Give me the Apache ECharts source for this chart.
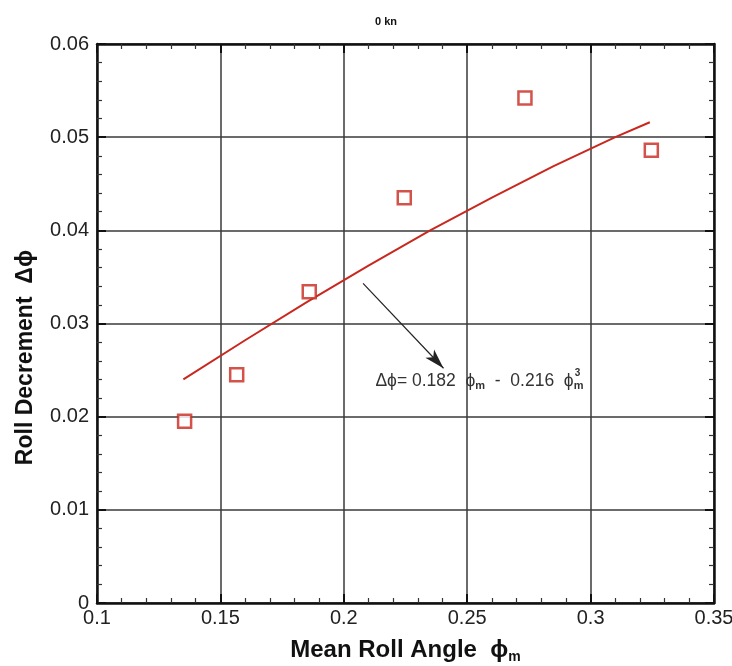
<!DOCTYPE html>
<html><head><meta charset="utf-8">
<script src="https://cdn.jsdelivr.net/npm/echarts@6/dist/echarts.min.js"></script>
<style>html,body{margin:0;padding:0;background:#fff}#c{width:732px;height:666px}</style>
</head><body><div id="c"></div>
<script>
const titleText = '0 kn';
const xName = 'Mean Roll Angle  ϕ{s|m}';
const yName = 'Roll Decrement  Δϕ';
const measX = [0.1355, 0.1566, 0.186, 0.2245, 0.2734, 0.3246];
const measY = [0.0195, 0.0245, 0.0334, 0.0435, 0.0542, 0.0486];
const fitX = [0.135, 0.16, 0.185, 0.21, 0.235, 0.26, 0.285, 0.31, 0.324];
const fitY = [0.0240, 0.0282, 0.0323, 0.0362, 0.0400, 0.0435, 0.0469, 0.0500, 0.0516];
const arrowFrom = [0.2078, 0.0343];
const arrowTo = [0.2404, 0.0252];
const notePos = [0.2128, 0.0238];
const notePre = 'Δϕ= 0.182  ϕ';
const noteMid = '  -  0.216  ϕ';

const chart = echarts.init(document.getElementById('c'));
const F = 'Liberation Sans, Arial, sans-serif';
const NS = 17.5, SS = 11;
const gridL = {show: true, lineStyle: {color: '#3a3a3a', width: 1.5}};
const axLine = {show: true, onZero: false, lineStyle: {color: '#111', width: 2.5}};
const tick = {show: true, inside: true, length: 9, lineStyle: {color: '#111', width: 2}};
const minor = {show: true, splitNumber: 5, length: 5, lineStyle: {color: '#333', width: 1.2}};
chart.setOption({
  animation: false,
  title: {text: titleText, left: 381, top: 11, textAlign: 'center',
    textStyle: {fontFamily: F, fontSize: 11, fontWeight: 'bold', color: '#111'}},
  grid: {left: 97, right: 18, top: 44, bottom: 63, outerBoundsMode: 'none', containLabel: false},
  xAxis: [{
    type: 'value', min: 0.1, max: 0.35, interval: 0.05,
    axisLine: axLine, axisTick: tick, minorTick: minor, splitLine: gridL,
    axisLabel: {fontFamily: F, fontSize: 20, color: '#222', margin: 5},
    name: xName, nameLocation: 'middle', nameGap: 33,
    nameTextStyle: {fontFamily: F, fontSize: 24, fontWeight: 'bold', color: '#111',
      rich: {s: {fontFamily: F, fontSize: 14, fontWeight: 'bold', color: '#111', verticalAlign: 'bottom', padding: [14, 0, 0, 0]}}}
  }, {
    type: 'value', position: 'top', min: 0.1, max: 0.35, interval: 0.05,
    axisLine: axLine, axisTick: tick, minorTick: minor, splitLine: {show: false},
    axisLabel: {show: false}
  }],
  yAxis: [{
    type: 'value', min: 0, max: 0.06, interval: 0.01,
    axisLine: axLine, axisTick: tick, minorTick: minor, splitLine: gridL,
    axisLabel: {fontFamily: F, fontSize: 20, color: '#222', margin: 8},
    name: yName, nameLocation: 'middle', nameGap: 60,
    nameTextStyle: {fontFamily: F, fontSize: 23, fontWeight: 'bold', color: '#111', padding: [0, 68, 0, 0]}
  }, {
    type: 'value', position: 'right', min: 0, max: 0.06, interval: 0.01,
    axisLine: axLine, axisTick: tick, minorTick: minor, splitLine: {show: false},
    axisLabel: {show: false}
  }],
  series: [{
    type: 'line', data: fitX.map((x, i) => [x, fitY[i]]),
    showSymbol: false, symbol: 'none',
    lineStyle: {color: '#c8281e', width: 2},
    markLine: {
      silent: true, symbol: ['none', 'arrow'], symbolSize: [9, 20],
      lineStyle: {color: '#222', width: 1.2, type: 'solid'},
      label: {show: false},
      data: [[{coord: arrowFrom}, {coord: arrowTo}]]
    },
    markPoint: {
      silent: true, symbol: 'circle', symbolSize: 0,
      data: [{coord: notePos,
        label: {show: true, position: 'right', distance: 0,
          formatter: notePre + '{s|m}' + noteMid + '{s|m}',
          fontFamily: F, fontSize: NS, color: '#333',
          rich: {s: {fontFamily: F, fontSize: SS, color: '#333', fontWeight: 'bold', verticalAlign: 'bottom', padding: [9, 0, 0, 0]}}}}]
    },
    z: 2
  }, {
    type: 'scatter', data: measX.map((x, i) => [x, measY[i]]),
    symbol: 'rect', symbolSize: 13,
    itemStyle: {color: '#fff', borderColor: '#c8281e', borderWidth: 2.5},
    z: 3
  }]
});
// superscript "3" stacked above the last subscript
const ctx = document.createElement('canvas').getContext('2d');
ctx.font = NS + 'px ' + F;
const w1 = ctx.measureText(notePre + noteMid).width;
ctx.font = 'bold ' + SS + 'px ' + F;
const w2 = ctx.measureText('m').width;
const p = chart.convertToPixel({gridIndex: 0}, notePos);
chart.setOption({graphic: [
  {type: 'text', left: p[0] + w1 + w2 + 1, top: p[1] - 13,
   style: {text: '3', fontFamily: F, fontSize: 10, fill: '#333', fontWeight: 'bold'}}
]});
</script></body></html>
